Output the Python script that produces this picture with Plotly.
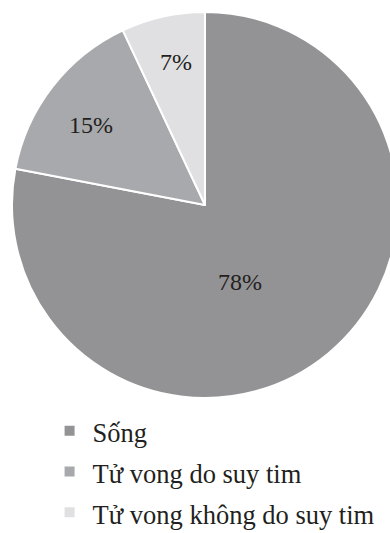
import math
import plotly.graph_objects as go

labels = ["Sống", "Tử vong do suy tim", "Tử vong không do suy tim"]
values = [78, 15, 7]
colors = ["#939396", "#a8a9ac", "#e0e0e2"]

# label placement style: fraction along slice angle, fraction of radius
label_angle_frac = [0.555, 0.45, 0.55]
label_radius_frac = [0.44, 0.72, 0.755]

W, H = 410, 533
ml, mr, mt, mb = 12, 12, 12, 0
plot_w = W - ml - mr
plot_h = H - mt - mb
diam = plot_w
R = diam / 2
cx, cy = ml + R, mt + R  # pixel centre

legend_labels = [f"<span style='font-size:26.5px'>{l}</span>" for l in labels]

fig = go.Figure(go.Pie(
    labels=legend_labels,
    values=values,
    sort=False,
    direction="clockwise",
    rotation=0,
    marker=dict(colors=colors, line=dict(color="white", width=2)),
    textinfo="none",
    domain=dict(x=[0, 1], y=[1 - diam / plot_h, 1]),
    hoverinfo="skip",
))

total = sum(values)
start = 0.0
annotations = []
for v, af, rf in zip(values, label_angle_frac, label_radius_frac):
    span = v / total * 360
    ang = math.radians(start + af * span)
    px = cx + rf * R * math.sin(ang)
    py = cy - rf * R * math.cos(ang)
    annotations.append(dict(
        x=(px - ml) / plot_w, y=(H - mb - py) / plot_h,
        xref="paper", yref="paper",
        text=f"{round(v / total * 100)}%", showarrow=False,
        font=dict(family="Liberation Serif", size=24, color="#231f20"),
        xanchor="center", yanchor="middle",
    ))
    start += span

fig.update_layout(
    width=W, height=H,
    margin=dict(l=ml, r=mr, t=mt, b=mb, autoexpand=False),
    paper_bgcolor="white",
    plot_bgcolor="white",
    showlegend=True,
    annotations=annotations,
    legend=dict(
        orientation="v",
        x=0.0896, y=(H - mb - 405.5) / plot_h,
        xanchor="left", yanchor="top",
        itemwidth=36,
        font=dict(family="Liberation Serif", size=29, color="#231f20"),
        bgcolor="rgba(0,0,0,0)",
    ),
    font=dict(family="Liberation Serif"),
)

post = "document.body.style.overflow='hidden';document.documentElement.style.overflow='hidden';document.body.style.margin='0';"
fig.write_html("out.html", post_script=post)
